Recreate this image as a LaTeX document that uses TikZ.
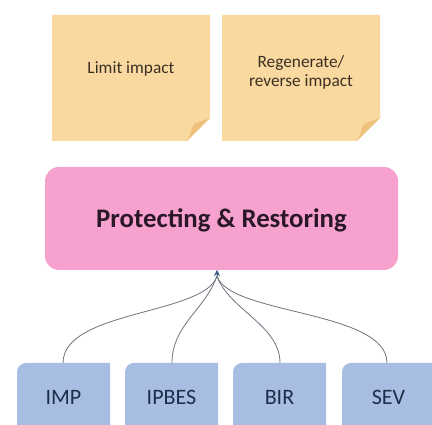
\documentclass[tikz,border=0pt]{standalone}
\usepackage{fontspec}
\setmainfont{Carlito}
\usetikzlibrary{arrows.meta,calc}
\definecolor{notefill}{HTML}{FAD9A1}
\definecolor{notefold}{HTML}{EFC27C}
\definecolor{notetext}{HTML}{3B2F22}
\definecolor{pinkfill}{HTML}{F7A1CF}
\definecolor{pinktext}{HTML}{2A1828}
\definecolor{bluefill}{HTML}{A7BEE2}
\definecolor{bluetext}{HTML}{1F2D4A}
\definecolor{wire}{HTML}{6E7480}
\definecolor{tipcol}{HTML}{3C5A88}
\tikzset{
  notelabel/.style={text=notetext, font=\fontsize{17.3}{19}\selectfont, align=center},
  sourcelabel/.style={text=bluetext, font=\fontsize{22}{24}\selectfont},
  link/.style={draw=wire, line width=0.8pt},
}
\begin{document}
\begin{tikzpicture}[x=1pt,y=1pt]
\fill[white] (0,0) rectangle (432,425);

% sticky notes with a folded lower-right corner
\foreach \xa/\xb in {52/210, 222/380}{
  \fill[notefill] (\xa,410) -- (\xb,410) -- (\xb,307) -- (\xb-23,284) -- (\xa,284) -- cycle;
  \fill[notefold] (\xb-23,284) .. controls (\xb-19,292) and (\xb-18,298) .. (\xb-16,301)
                   .. controls (\xb-10,304) and (\xb-5,305) .. (\xb,307) -- cycle;
}
\node[notelabel] (limit) at (131,356) {Limit impact};
\node[notelabel] (regen) at (301,353) {Regenerate/\\reverse impact};

% central box
\fill[pinkfill, rounded corners=14pt] (45,155) rectangle (398,258);
\node[text=pinktext, font=\fontsize{26.8}{28}\selectfont\bfseries] (pr) at (221.5,205) {Protecting \& Restoring};

% source boxes running off the lower edge, only the upper-left corner rounded
\begin{scope}
\clip (0,0) rectangle (432,425);
\foreach \xa in {17,125,233,342}{
  \fill[bluefill] (\xa+93,62) -- (\xa+93,-10) -- (\xa,-10) -- (\xa,53)
      arc[start angle=180, end angle=90, radius=9] -- cycle;
}
\end{scope}
\node[sourcelabel] (imp) at (63.5,28) {IMP};
\node[sourcelabel] (ipbes) at (171.5,28) {IPBES};
\node[sourcelabel] (bir) at (279.5,28) {BIR};
\node[sourcelabel] (sev) at (388.5,28) {SEV};
\coordinate (impTop) at (63,62);
\coordinate (ipbesTop) at (172,62);
\coordinate (birTop) at (280,62);
\coordinate (sevTop) at (387,62);

% converging connectors
\coordinate (apex) at (217,149);
\coordinate (tip) at (217,155);
\draw[link] (impTop) .. controls (63,115) and (205,110) .. (apex);
\draw[link] (ipbesTop) .. controls (172,100) and (205,115) .. (apex);
\draw[link] (birTop) .. controls (280,100) and (229,115) .. (apex);
\draw[link] (sevTop) .. controls (387,115) and (229,110) .. (apex);
\draw[draw=tipcol, line width=1pt, -{Stealth[length=6pt,width=6pt]}] (apex) -- (tip);
\useasboundingbox (0,0) rectangle (432,425);
\end{tikzpicture}
\end{document}
